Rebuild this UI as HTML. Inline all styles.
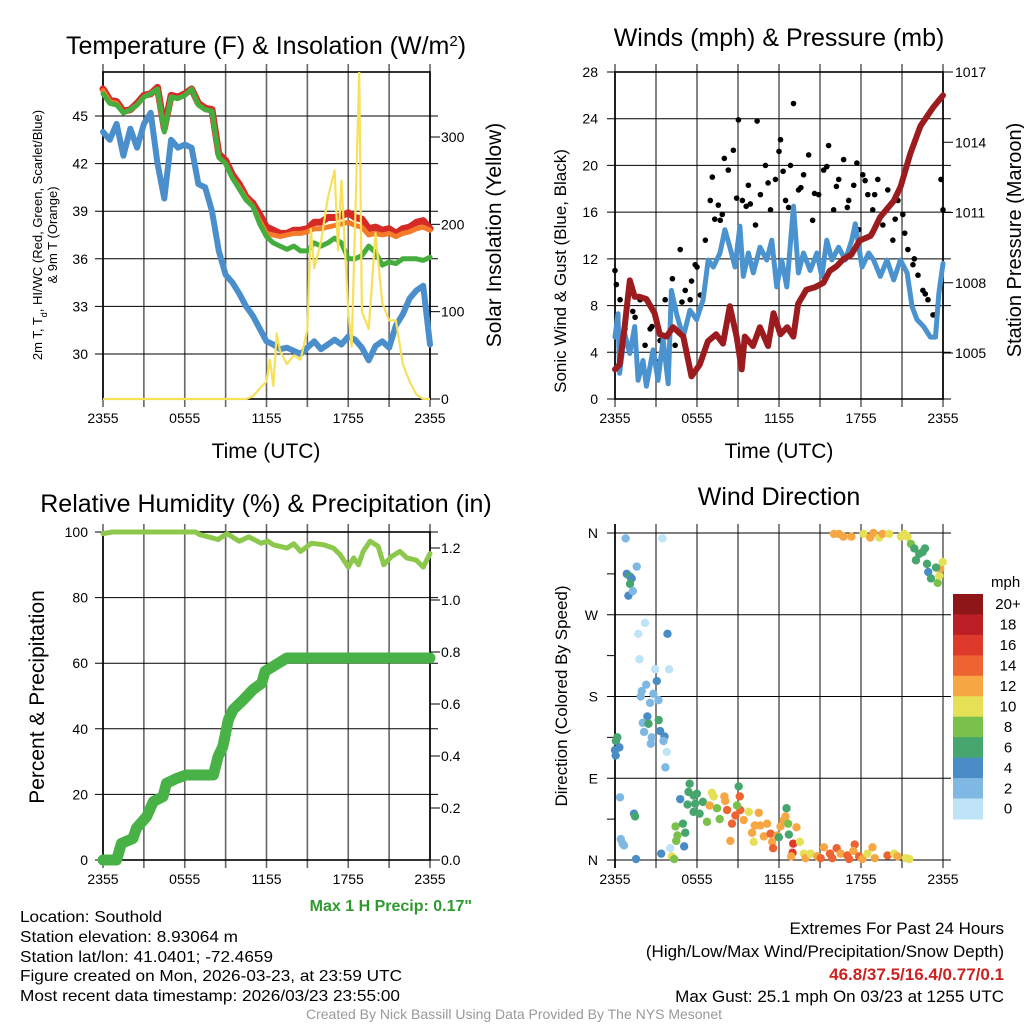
<!DOCTYPE html>
<html><head><meta charset="utf-8"><style>
html,body{margin:0;padding:0;background:#fff;}
svg{display:block;font-family:"Liberation Sans",sans-serif;}
</style></head><body>
<svg id="fig" width="1024" height="1024" viewBox="0 0 1024 1024" xmlns="http://www.w3.org/2000/svg">
<rect x="0" y="0" width="1024" height="1024" fill="#fff"/>
<g id="p1"></g>
<g id="p2"></g>
<g id="p3"></g>
<g id="p4"></g>
<g id="txt">
<text x="266" y="54" font-size="25" text-anchor="middle">Temperature (F) &amp; Insolation (W/m<tspan baseline-shift="super" font-size="15">2</tspan>)</text>
<text x="779" y="46" font-size="25" text-anchor="middle">Winds (mph) &amp; Pressure (mb)</text>
<text x="266" y="512" font-size="25" text-anchor="middle">Relative Humidity (%) &amp; Precipitation (in)</text>
<text x="779" y="505" font-size="25" text-anchor="middle">Wind Direction</text>
<text x="266" y="458" font-size="21" text-anchor="middle">Time (UTC)</text>
<text x="779" y="458" font-size="21" text-anchor="middle">Time (UTC)</text>
<text transform="translate(42,235) rotate(-90)" font-size="13" text-anchor="middle">2m T, T<tspan baseline-shift="sub" font-size="9">d</tspan>, HI/WC (Red, Green, Scarlet/Blue)</text>
<text transform="translate(57,235) rotate(-90)" font-size="13" text-anchor="middle">&amp; 9m T (Orange)</text>
<text transform="translate(501,235) rotate(-90)" font-size="21" text-anchor="middle">Solar Insolation (Yellow)</text>
<text transform="translate(566,271) rotate(-90)" font-size="17" text-anchor="middle">Sonic Wind &amp; Gust (Blue, Black)</text>
<text transform="translate(1021,240) rotate(-90)" font-size="20" text-anchor="middle">Station Pressure (Maroon)</text>
<text transform="translate(44,697) rotate(-90)" font-size="21" text-anchor="middle">Percent &amp; Precipitation</text>
<text transform="translate(567,696) rotate(-90)" font-size="17" text-anchor="middle">Direction (Colored By Speed)</text>
<text x="472" y="911" font-size="16" font-weight="bold" fill="#2e9a2e" text-anchor="end">Max 1 H Precip: 0.17"</text>
<text x="20" y="922" font-size="16" textLength="142" lengthAdjust="spacingAndGlyphs">Location: Southold</text>
<text x="20" y="942" font-size="16" textLength="218" lengthAdjust="spacingAndGlyphs">Station elevation: 8.93064 m</text>
<text x="20" y="962" font-size="16" textLength="253" lengthAdjust="spacingAndGlyphs">Station lat/lon: 41.0401; -72.4659</text>
<text x="20" y="981" font-size="16" textLength="382" lengthAdjust="spacingAndGlyphs">Figure created on Mon, 2026-03-23, at 23:59 UTC</text>
<text x="20" y="1001" font-size="16" textLength="380" lengthAdjust="spacingAndGlyphs">Most recent data timestamp: 2026/03/23 23:55:00</text>
<text x="1004" y="934" font-size="17" text-anchor="end">Extremes For Past 24 Hours</text>
<text x="1004" y="957" font-size="17" text-anchor="end">(High/Low/Max Wind/Precipitation/Snow Depth)</text>
<text x="1004" y="980" font-size="17" font-weight="bold" fill="#cc2222" text-anchor="end">46.8/37.5/16.4/0.77/0.1</text>
<text x="1004" y="1002" font-size="17" text-anchor="end">Max Gust: 25.1 mph On 03/23 at 1255 UTC</text>
<text x="514" y="1019" font-size="14" fill="#999" text-anchor="middle">Created By Nick Bassill Using Data Provided By The NYS Mesonet</text>
</g>
</svg>
<script>
// ---- shared ----
const xTickLabels = ["2355","0555","1155","1755","2355"];
// ---- panel 1: temperature ----
const tHours = [0,0.5,1,1.5,2,2.5,3,3.5,4,4.5,5,5.5,6,6.5,7,7.5,8,8.5,9,9.5,10,10.5,11,11.5,12,12.5,13,13.5,14,14.5,15,15.5,16,16.5,17,17.5,18,18.5,19,19.5,20,20.5,21,21.5,22,22.5,23,23.5,24];
const tempRed = [46.7,46.0,45.9,45.3,45.4,45.8,46.3,46.4,46.8,44.2,46.3,46.2,46.4,46.7,45.8,45.5,45.4,42.6,42.2,41.3,40.7,39.9,39.5,38.8,38.0,37.8,37.6,37.6,37.8,37.8,37.9,38.3,38.3,38.6,38.6,38.7,38.9,38.6,38.5,37.9,38.0,37.8,37.9,37.6,37.9,38.0,38.3,38.4,37.9];
const tempOrange = [46.6,45.9,45.8,45.2,45.4,45.7,46.2,46.4,46.7,44.0,46.2,46.1,46.3,46.7,45.7,45.4,45.3,42.4,42.0,41.1,40.5,39.8,39.3,38.4,37.6,37.5,37.4,37.5,37.6,37.6,37.7,37.9,37.9,38.0,38.1,38.2,38.3,38.1,38.0,37.5,37.6,37.5,37.6,37.4,37.6,37.7,37.9,38.0,37.8];
const tempGreen = [46.4,45.8,45.7,45.2,45.4,45.7,46.2,46.4,46.7,44.0,46.2,46.1,46.3,46.7,45.7,45.4,45.3,42.4,42.0,41.1,40.4,39.7,39.3,38.2,37.4,37.0,36.8,36.6,36.8,36.5,36.5,37.0,36.8,37.0,37.3,37.0,36.0,36.0,36.2,36.8,36.4,35.6,35.8,35.7,36.0,36.0,36.0,35.9,36.1];
const tempBlue = [44.0,43.5,44.5,42.5,44.2,43.0,44.5,45.2,42.0,39.8,43.5,43.0,43.2,43.0,40.7,40.5,39.0,36.5,35.0,34.5,33.8,33.0,32.4,31.6,30.8,30.6,30.3,30.4,30.2,30.0,30.4,30.8,30.3,30.6,30.9,30.6,31.1,30.9,30.4,29.6,30.5,30.8,30.4,31.8,32.5,33.5,34.0,34.3,30.6];
const solarHours = [0,10.5,11,11.5,12,12.25,12.5,12.75,13,13.5,14,14.5,15,15.25,15.5,16,16.5,17,17.25,17.5,18,18.25,18.5,18.8,19,19.5,20,20.5,21,21.5,22,22.5,23,23.5,24];
const solar = [0,0,3,12,20,45,15,75,55,40,50,45,80,195,150,180,230,262,170,250,100,60,200,375,100,80,190,110,90,90,40,20,5,0,0];
const tempTicks = [30,33,36,39,42,45];
const solarTicks = [0,100,200,300];
// ---- panel 2: winds ----
const windHours = [0,0.22,0.34,0.71,1.08,1.44,1.69,2.05,2.3,2.79,3.15,3.52,3.89,4.13,4.5,4.99,5.48,5.97,6.45,6.82,7.19,7.68,8.04,8.41,8.78,9.14,9.39,9.76,10.12,10.61,11.1,11.47,11.83,12.2,12.57,13.06,13.42,13.79,14.28,14.77,15.13,15.5,15.87,16.36,16.85,17.33,17.58,18.07,18.56,18.92,19.41,19.9,20.39,20.88,21.37,21.74,22.1,22.59,23.08,23.45,23.69,24];
const windSpeed = [5.3,7.3,2.2,5.6,3.9,6.2,1.6,3.3,1.1,4.2,1.6,5.1,1.3,9.3,7.3,5.3,7.6,6.8,8.5,11.9,11.3,12.5,14.5,13.0,11.3,14.8,10.5,12.5,10.8,13.0,11.9,13.6,9.6,11.9,9.6,16.5,10.8,12.5,11.0,12.5,10.5,13.6,11.9,13.0,11.9,13.6,15.0,11.3,12.5,11.9,10.5,11.9,10.2,11.9,10.8,7.9,6.8,6.2,5.3,5.3,9.0,11.6];
const gustHours = [0,0.37,0.73,1.10,1.47,1.83,2.20,2.57,2.94,3.30,3.67,4.04,4.40,4.77,5.14,5.50,5.87,6.24,6.61,6.97,7.12,7.56,7.85,8.29,8.66,9.03,9.32,9.76,10.28,10.64,11.01,11.38,11.74,12.11,12.48,12.84,13.06,13.43,13.80,14.17,14.46,14.90,15.27,15.63,16.00,16.37,16.73,17.10,17.47,17.83,18.13,18.50,18.86,19.23,19.60,19.96,20.33,20.70,21.06,21.43,21.80,22.17,22.53,22.90,23.27,23.63,23.85,24.0,0.1,1.3,2.7,4.2,4.9,6.0,7.3,8.0,8.9,9.6,10.4,11.2,12.0,12.7,13.6,14.6,15.5,16.2,17.0,17.7,18.3,19.0,19.8,20.5,21.2,21.9,22.7,23.4,5.6,7.7,9.9,12.3];
const gust = [11,8.5,6,10,7,8.5,4.6,6,3.3,5,8.5,6,4.6,12.8,9.3,8.5,11.5,8.9,13.6,17,19,16.6,15.8,19.6,21.3,23.9,17,18.3,14.9,17.5,20,16.2,18.8,22.2,17,20,25.3,17.9,19.2,20.9,15.3,17.5,19.6,21.7,16.2,18.8,20.5,17,18.3,14.5,19.2,17.5,16.2,18.8,14.9,17.9,13.6,17,15.8,12.8,11.5,10.6,9.3,8.5,7.2,8,18.8,16.2,9.8,7.5,6.2,10.3,8.3,11.3,15.4,20.6,17.2,16.5,23.8,18.5,21.2,16.4,18.1,17.6,19.9,18.2,16.4,20.2,18.7,17.5,16.1,15.4,14.2,12.0,9.0,7.2,10.1,15.3,16.7,19.5];
const presHours = [0,0.34,0.7,1.08,1.44,1.8,2.3,2.9,3.28,3.77,4.25,5.0,5.6,6.2,6.8,7.4,7.9,8.4,8.9,9.27,9.5,10.1,10.6,11.2,11.6,12.1,12.6,13.05,13.4,14.0,14.6,15.25,15.7,16.2,16.7,17.3,17.9,18.7,18.9,19.4,20.4,20.9,21.6,22.35,23.3,24];
const pressure = [1004.3,1004.5,1006.1,1008.1,1007.4,1007.4,1007.3,1006.7,1005.8,1005.7,1006.1,1005.7,1004.0,1004.5,1005.5,1005.8,1005.4,1007.0,1005.7,1004.3,1005.7,1005.3,1006.1,1005.3,1006.7,1005.8,1006.1,1005.7,1007.1,1007.7,1007.8,1008.0,1008.5,1008.7,1009.0,1009.2,1009.8,1010.0,1010.2,1010.8,1011.5,1012.1,1013.5,1014.7,1015.5,1016.0];
const windTicks = [0,4,8,12,16,20,24,28];
const presTicks = [1005,1008,1011,1014,1017];
// ---- panel 3: humidity ----
const rhHours = [0,0.7,6.8,7.1,8.45,9.1,10,10.7,11.6,12.1,12.5,13.5,14,14.5,15.3,16.2,16.9,17.4,18,18.4,18.75,19.1,19.6,20.2,20.6,21.2,21.8,22.3,23.0,23.5,24];
const rh = [99.5,100,100,99.2,97.7,99.5,97.2,98.5,96.6,97.2,96.1,95.1,96.4,94.1,96.6,96.1,95.1,93.1,89.3,92.1,90.0,94.1,97.2,95.6,90.0,92.6,94.1,92.1,91.4,89.3,93.4];
const precipHours = [0,1,1.35,2.2,2.45,3.2,3.7,4.4,4.65,5.4,6.1,8.1,8.45,8.8,9.2,9.55,10.3,11.0,11.65,11.9,12.5,13.5,24];
const precip = [0,0,0.064,0.083,0.122,0.167,0.225,0.244,0.295,0.314,0.327,0.327,0.398,0.437,0.539,0.578,0.616,0.655,0.680,0.726,0.745,0.777,0.777];
const rhTicks = [0,20,40,60,80,100];
const precipTicks = [0,0.2,0.4,0.6,0.8,1.0,1.2];
// ---- panel 4: direction ----
const dirHours = [0.78,3.47,0.86,1.10,1.22,1.59,1.10,0.98,1.30,2.20,1.71,3.84,1.79,2.94,3.96,2.28,1.96,3.06,1.88,2.81,2.57,3.18,2.37,2.03,2.45,3.20,2.13,3.30,2.69,3.62,3.55,2.62,3.79,3.69,0.17,0.07,0.32,0.0,0.05,0.37,1.39,1.47,0.42,0.56,0.66,1.54,3.38,4.04,4.16,4.33,4.43,4.97,4.57,4.48,5.14,5.06,4.77,5.46,5.38,5.75,5.99,5.31,5.87,6.43,5.75,6.19,6.73,6.92,7.09,7.22,7.46,7.66,8.00,8.07,8.20,8.44,8.56,8.81,9.05,9.13,9.17,8.93,9.42,9.79,10.03,10.15,10.23,10.52,10.64,10.89,11.13,11.38,11.50,11.57,11.87,11.99,12.11,12.35,12.48,12.55,12.72,12.67,13.04,12.99,12.89,13.28,13.53,13.82,13.94,14.31,14.80,15.29,15.05,15.73,15.90,16.22,16.51,17.00,17.13,17.54,17.44,17.86,18.10,18.47,18.84,19.01,19.94,20.43,20.67,21.28,21.53,16.02,16.39,16.71,17.30,18.18,18.67,18.91,19.33,19.57,20.06,20.92,21.16,21.41,21.65,21.90,22.26,22.51,22.68,22.02,22.83,22.92,23.12,23.61,23.73,23.80,23.98,23.49];
const dirDeg = [354,354,315,312,310,323,304,291,296,261,249,249,221,210,210,193,186,197,180,183,173,176,158,151,150,154,141,142,135,136,131,128,119,102,135,131,124,121,115,69,51,48,23,18,16,1,7,13,4,1,37,40,27,21,30,15,67,84,75,71,73,61,62,64,53,51,42,60,74,70,57,45,70,65,55,21,40,49,81,70,55,60,44,53,30,20,38,52,38,26,40,29,20,13,27,25,37,44,48,57,28,40,18,8,4,36,20,7,2,7,4,14,2,7,2,13,7,5,1,17,10,4,1,7,14,2,5,7,4,2,1,359,359,356,356,359,355,360,355,359,359,356,359,356,348,343,337,339,343,330,326,317,310,305,313,321,328,322];
const dirSpeed = [2,0,3,6,4,2,6,4,2,0,0,3,0,0,0,2,2,3,2,2,2,2,4,2,6,6,2,4,2,4,2,2,0,2,6,6,4,4,4,2,4,6,2,2,2,4,4,0,10,8,8,6,8,8,6,4,4,6,6,6,6,6,6,6,6,6,8,12,10,10,8,8,12,12,14,12,14,14,6,14,14,8,12,10,12,10,12,12,12,12,12,14,12,14,12,6,12,12,12,6,6,8,16,16,12,12,10,10,12,10,12,12,14,14,14,14,12,14,14,14,12,14,12,10,12,12,14,10,12,10,10,12,12,12,12,10,12,12,10,12,10,10,10,10,8,6,6,6,6,6,6,4,6,8,10,12,10,6];
const dirLabels = ["N","E","S","W","N"];
const speedBins = ["0","2","4","6","8","10","12","14","16","18","20+"];
const speedColors = ["#bfe3f7","#7fb9e3","#4a8dc6","#47a66e","#7ac14b","#e5e055","#f6a743","#ee6332","#dd3a2c","#bc1f25","#8e1619"];

const NS = "http://www.w3.org/2000/svg";
function mk(tag, parent, attrs){ const e=document.createElementNS(NS,tag); for(const k in attrs) e.setAttribute(k,attrs[k]); parent.appendChild(e); return e; }
function lin(d0,d1,r0,r1){ return v => r0+(v-d0)*(r1-r0)/(d1-d0); }

function frameAndGrid(g, L, R, T, B, xs, hTicks, yScale, frame){
  for(let h=0; h<=24; h+=3){
    const l = mk('line', g, {x1:xs(h),x2:xs(h),y1:T-8,y2:B+8,stroke:'#666','stroke-width':1.6});
    
    
  }
  hTicks.forEach(v=>{
    const l = mk('line', g, {x1:L-8,x2:R+8,y1:yScale(v),y2:yScale(v),stroke:'#000','stroke-width':1});
    
    
  });
  if(frame){
    const r = mk('rect', g, {x:L,y:T,width:R-L,height:B-T,fill:'none',stroke:'#000','stroke-width':1.6});
    
    
  }
  xTickLabels.forEach((s,i)=>{
    const t = mk('text', g, {x:xs(i*6),y:B+24,'font-size':14,'text-anchor':'middle'});
    t.textContent = s;
    
    
  });
}
function yLabels(g, ticks, sc, x, anchor, fmt){
  ticks.forEach(v=>{
    const t = mk('text', g, {x:x,y:sc(v)+5,'font-size':14,'text-anchor':anchor});
    t.textContent = fmt(v);
    
    
  });
}
function poly(g, xsArr, ysArr, xs, ys, color, w, name){
  const pts = xsArr.map((h,i)=>xs(h).toFixed(1)+','+ys(ysArr[i]).toFixed(1)).join(' ');
  const p = mk('polyline', g, {points:pts,fill:'none',stroke:color,'stroke-width':w,'stroke-linejoin':'round','stroke-linecap':'round'});
  
  
  return p;
}

// Panel 1
(function(){
  const g = document.getElementById('p1');
  const L=103,R=430,T=72,B=399;
  const xs = lin(0,24,L,R);
  const yT = lin(45,30,116,354);
  const yS = lin(0,300,399,137);
  frameAndGrid(g,L,R,T,B,xs,tempTicks,yT,true);
  yLabels(g,tempTicks,yT,88,'end',v=>v);
  yLabels(g,solarTicks,yS,441,'start',v=>v);
  solarTicks.forEach(v=>{ const l=mk('line',g,{x1:R,x2:R+10,y1:yS(v),y2:yS(v),stroke:'#000'});   });
  poly(g,tHours,tempBlue,xs,yT,'#4a8fcb',6,'dewpoint-line');
  poly(g,tHours,tempRed,xs,yT,'#d62a26',7,'temperature-line');
  poly(g,tHours,tempOrange,xs,yT,'#f47b2a',5,'temperature-9m-line');
  poly(g,tHours,tempGreen,xs,yT,'#45ad3e',5,'heat-index-line');
  const cl = mk('clipPath', g, {id:'c1'}); mk('rect', cl, {x:L,y:T,width:R-L,height:B-T+2});
  const sp = poly(g,solarHours,solar,xs,yS,'#f7e05a',2.2,'solar-line');
  sp.setAttribute('clip-path','url(#c1)');
})();

// Panel 2
(function(){
  const g = document.getElementById('p2');
  const L=615,R=943,T=72,B=399;
  const xs = lin(0,24,L,R);
  const yW = lin(0,28,399,72);
  const yP = lin(1005,1017,353,72);
  frameAndGrid(g,L,R,T,B,xs,windTicks,yW,true);
  yLabels(g,windTicks,yW,598,'end',v=>v);
  yLabels(g,presTicks,yP,955,'start',v=>v);
  presTicks.forEach(v=>{ const l=mk('line',g,{x1:R,x2:R+10,y1:yP(v),y2:yP(v),stroke:'#000'});   });
  gustHours.forEach((h,i)=>{
    const c = mk('circle', g, {cx:xs(h),cy:yW(gust[i]),r:2.8,fill:'#000'});
    
    
  });
  poly(g,windHours,windSpeed,xs,yW,'#4b93cf',5,'wind-speed-line');
  poly(g,presHours,pressure,xs,yP,'#9b1b1e',6,'pressure-line');
})();

// Panel 3
(function(){
  const g = document.getElementById('p3');
  const L=103,R=430,T=532,B=860;
  const xs = lin(0,24,L,R);
  const yR = lin(0,100,860,532);
  const yI = lin(0,1.2,860,548);
  frameAndGrid(g,L,R,T,B,xs,rhTicks,yR,true);
  yLabels(g,rhTicks,yR,88,'end',v=>v);
  yLabels(g,precipTicks,yI,441,'start',v=>v.toFixed(1));
  precipTicks.forEach(v=>{ const l=mk('line',g,{x1:R,x2:R+10,y1:yI(v),y2:yI(v),stroke:'#000'});   });
  poly(g,rhHours,rh,xs,yR,'#8cc84b',5,'humidity-line');
  poly(g,precipHours,precip,xs,yI,'#48b247',11,'precipitation-line');
})();

// Panel 4
(function(){
  const g = document.getElementById('p4');
  const L=615,R=943,T=533,B=860;
  const xs = lin(0,24,L,R);
  const yD = lin(0,360,860,533);
  const degTicks = [0,45,90,135,180,225,270,315,360];
  for(let h=0; h<=24; h+=3){
    const l = mk('line', g, {x1:xs(h),x2:xs(h),y1:T-9,y2:B+8,stroke:'#666','stroke-width':1.6});
    
    
  }
  degTicks.forEach(v=>{
    const major = v%90===0;
    const l = mk('line', g, {x1:L-8,x2:major?R+8:L,y1:yD(v),y2:yD(v),stroke:'#000','stroke-width':1});
    
    
  });
  const lf = mk('line', g, {x1:L,x2:L,y1:T-9,y2:B+8,stroke:'#000','stroke-width':1.6});
  
  
  dirLabels.forEach((s,i)=>{
    const t = mk('text', g, {x:598,y:yD(i*90)+5,'font-size':14,'text-anchor':'end'});
    t.textContent = s;
    
    
  });
  xTickLabels.forEach((s,i)=>{
    const t = mk('text', g, {x:xs(i*6),y:B+24,'font-size':14,'text-anchor':'middle'});
    t.textContent = s;
    
    
  });
  dirHours.forEach((h,i)=>{
    const bin = Math.min(10, Math.round(dirSpeed[i]/2));
    const c = mk('circle', g, {cx:xs(h),cy:yD(dirDeg[i]),r:4.2,fill:speedColors[bin]});
    
    
  });
  // colorbar
  const mph = mk('text', g, {x:991,y:587,'font-size':15});
  mph.textContent='mph';
  
  
  const top=594, bh=20.45;
  speedBins.forEach((s,i)=>{
    const k = 10-i;
    const y0 = top + i*bh;
    const r = mk('rect', g, {x:953,y:y0,width:30,height:bh+0.5,fill:speedColors[k]});
    
    
    const t = mk('text', g, {x:1008,y:y0+bh/2+5,'font-size':15,'text-anchor':'middle'});
    t.textContent = speedBins[k];
    
    
  });
})();
</script>
</body></html>
